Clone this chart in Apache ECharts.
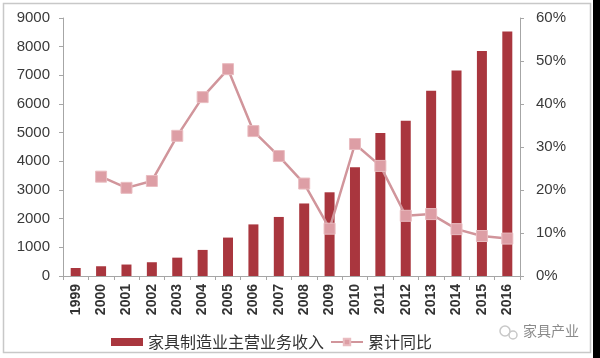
<!DOCTYPE html>
<html><head><meta charset="utf-8">
<script src="https://cdn.jsdelivr.net/npm/echarts@6/dist/echarts.min.js"></script>
<style>html,body{margin:0;padding:0;background:#fff}#c{width:600px;height:358px}</style>
</head><body><div id="c"></div>
<script>
const years = ['1999','2000','2001','2002','2003','2004','2005','2006','2007','2008','2009','2010','2011','2012','2013','2014','2015','2016'];
const revenue = [280,340,400,480,640,910,1340,1800,2060,2530,2920,3790,4990,5420,6460,7170,7850,8530];
const growth = [null,0.231,0.205,0.221,0.326,0.416,0.481,0.337,0.279,0.215,0.110,0.307,0.256,0.140,0.144,0.109,0.093,0.087];
const barName = '家具制造业主营业务收入';
const lineName = '累计同比';
const leftTicks = {min:0,max:9000,interval:1000};
const rightTicks = {min:0,max:0.6,interval:0.1};

const chart = echarts.init(document.getElementById('c'), null, {renderer:'canvas'});
const axisCol = '#a6a6a6';
const numFont = {fontFamily:'Liberation Sans, Arial, sans-serif', fontSize:15, color:'#3a3a3a'};
chart.setOption({
  animation:false,
  backgroundColor:'#ffffff',
  grid:{left:63,right:80,top:18,bottom:82,containLabel:false},
  legend:{
    left:111, top:334, padding:0, itemGap:6, itemWidth:32, itemHeight:8,
    textStyle:{fontFamily:'Noto Sans CJK SC', fontSize:16, color:'#333', padding:[0,0,0,0]},
    data:[{name:barName, icon:'rect'},{name:lineName}]
  },
  xAxis:{
    type:'category', data:years, boundaryGap:true,
    axisLine:{lineStyle:{color:axisCol,width:1}},
    axisTick:{show:true,length:4,lineStyle:{color:axisCol}},
    axisLabel:Object.assign({rotate:90, margin:8, interval:0, fontWeight:'bold'}, numFont, {fontSize:14,color:'#333'})
  },
  yAxis:[
    {type:'value', min:leftTicks.min, max:leftTicks.max, interval:leftTicks.interval,
     splitLine:{show:false},
     axisLine:{show:true,lineStyle:{color:axisCol}},
     axisTick:{show:true,length:4,lineStyle:{color:axisCol}},
     axisLabel:Object.assign({margin:13, formatter:v=>String(v)}, numFont)},
    {type:'value', min:rightTicks.min, max:rightTicks.max, interval:rightTicks.interval,
     splitLine:{show:false},
     axisLine:{show:true,lineStyle:{color:axisCol}},
     axisTick:{show:true,length:4,lineStyle:{color:axisCol}},
     axisLabel:Object.assign({margin:16, formatter:v=>Math.round(v*100)+'%'}, numFont)}
  ],
  series:[
    {name:barName, type:'bar', data:revenue, barWidth:10, yAxisIndex:0,
     itemStyle:{color:'#a9363e'}},
    {name:lineName, type:'line', data:growth, yAxisIndex:1, connectNulls:false,
     symbol:'rect', symbolSize:11,
     lineStyle:{color:'#d1959b', width:2.5},
     itemStyle:{color:'#dd9ea5', borderColor:'#e9bcc0', borderWidth:1}}
  ],
  graphic:[
    {type:'rect', shape:{x:3.5,y:3.5,width:587,height:349}, style:{fill:null, stroke:'#c8c8c8', lineWidth:1.5}, z:-1},
    {type:'rect', shape:{x:593,y:0,width:7,height:358}, style:{fill:'#000'}},
    {type:'circle', shape:{cx:505,cy:331,r:5}, style:{fill:null, stroke:'#c8c8c8', lineWidth:1.5}},
    {type:'circle', shape:{cx:513,cy:335,r:4}, style:{fill:null, stroke:'#c8c8c8', lineWidth:1.5}},
    {type:'text', left:523, top:324, style:{text:'家具产业', fontFamily:'Noto Sans CJK SC', fontSize:14, fill:'#8a8a8a'}}
  ]
});
</script></body></html>
